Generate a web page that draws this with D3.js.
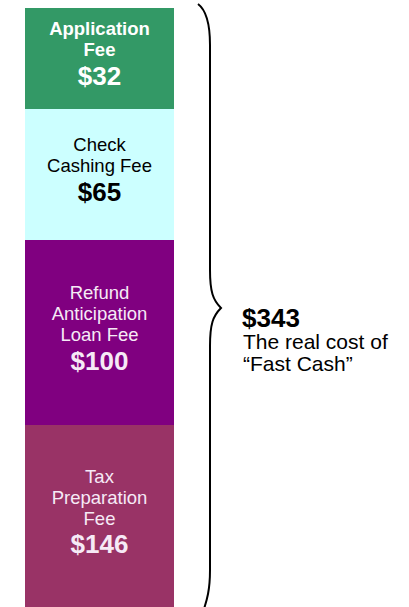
<!DOCTYPE html>
<html>
<head>
<meta charset="utf-8">
<script src="https://cdn.jsdelivr.net/npm/d3@7"></script>
<style>
  body { margin: 0; background: #fff; }
  svg { display: block; font-family: Arial, "Liberation Sans", sans-serif; }
</style>
</head>
<body>
<div id="chart"></div>
<script>
// fees, top of the stack first
let fees = ['Application Fee', 'Check Cashing Fee', 'Refund Anticipation Loan Fee', 'Tax Preparation Fee'];
let amounts = [32, 65, 100, 146];
let labelLines = [
  ['Application', 'Fee'],
  ['Check', 'Cashing Fee'],
  ['Refund', 'Anticipation', 'Loan Fee'],
  ['Tax', 'Preparation', 'Fee']
];
let totalLines = ['The real cost of', '\u201CFast Cash\u201D'];

let width = 409;
let height = 607;

let colors = ['#339966', '#ccffff', '#800080', '#993366'];
let textColors = ['#ffffff', '#000000', '#f6eaf6', '#f6eaf6'];

// cumulative stack (top to bottom)
let stops = [0];
amounts.forEach(function(v, i) { stops.push(stops[i] + v); });
let total = stops[stops.length - 1];

// the boxes in the picture are not drawn to scale, so the y scale is piecewise
let y = d3.scaleLinear()
  .domain(stops)
  .range([8, 109, 240, 425, 607]);

let x = d3.scaleBand()
  .domain(['Fast Cash'])
  .range([25, 174])
  .padding(0);

let svg = d3.select('#chart')
  .append('svg')
  .attr('width', width)
  .attr('height', height);

let segs = fees.map(function(f, i) {
  return { fee: f, value: amounts[i], y0: stops[i], y1: stops[i + 1], lines: labelLines[i], i: i };
});

svg.selectAll('rect.seg')
  .data(segs)
  .enter()
  .append('rect')
  .attr('class', 'seg')
  .attr('x', x('Fast Cash'))
  .attr('width', x.bandwidth())
  .attr('y', function(d) { return y(d.y0); })
  .attr('height', function(d) { return y(d.y1) - y(d.y0); })
  .attr('fill', function(d) { return colors[d.i]; });

// labels inside each box
let cx = x('Fast Cash') + x.bandwidth() / 2;
segs.forEach(function(d) {
  let mid = (y(d.y0) + y(d.y1)) / 2;
  let n = d.lines.length;
  let valueY = mid + 11 * n - 5;
  let g = svg.append('g').attr('fill', textColors[d.i]).attr('text-anchor', 'middle');
  d.lines.forEach(function(line, k) {
    g.append('text')
      .attr('x', cx)
      .attr('y', valueY - 26 - 21 * (n - 1 - k))
      .attr('dy', '0.36em')
      .style('font-size', '18.5px')
      .style('font-weight', d.i === 0 ? 'bold' : 'normal')
      .text(line);
  });
  g.append('text')
    .attr('x', cx)
    .attr('y', valueY)
    .attr('dy', '0.36em')
    .style('font-size', '26px')
    .style('font-weight', 'bold')
    .text('$' + d.value);
});

// curly brace over the whole stack
let braceTop = y(0) - 4;
let braceBot = y(total) + 5;
let tipY = 308;
let bx = 210;
let tipX = 221;
let p = d3.path();
p.moveTo(198, braceTop);
p.bezierCurveTo(206, braceTop + 6, bx, braceTop + 18, bx, braceTop + 41);
p.lineTo(bx, tipY - 38);
p.bezierCurveTo(bx, tipY - 16, bx + 3, tipY - 8, tipX, tipY);
p.bezierCurveTo(bx + 3, tipY + 8, bx, tipY + 16, bx, tipY + 38);
p.lineTo(bx, braceBot - 42);
p.bezierCurveTo(bx, braceBot - 22, bx - 3, braceBot - 12, bx - 7, braceBot);

svg.append('path')
  .attr('d', p.toString())
  .attr('fill', 'none')
  .attr('stroke', '#000')
  .attr('stroke-width', 2);

// total annotation
let ann = svg.append('g').attr('fill', '#000');
ann.append('text')
  .attr('x', 242)
  .attr('y', tipY + 19)
  .style('font-size', '26px')
  .style('font-weight', 'bold')
  .text('$' + total);
totalLines.forEach(function(line, k) {
  ann.append('text')
    .attr('x', 243)
    .attr('y', tipY + 41 + 22 * k)
    .style('font-size', '21px')
    .text(line);
});
</script>
</body>
</html>
